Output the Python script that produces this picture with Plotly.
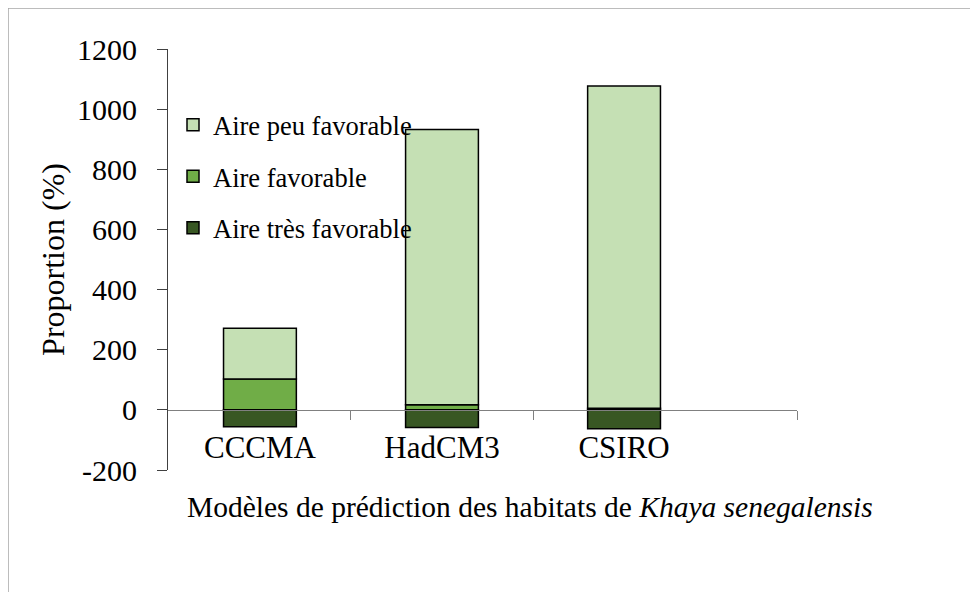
import plotly.graph_objects as go

models = ["CCCMA", "HadCM3", "CSIRO"]
tres_favorable = [-56, -59, -63]
favorable = [103, 17, 5]
peu_favorable = [168, 915, 1072]
y_ticks = [-200, 0, 200, 400, 600, 800, 1000, 1200]
y_labels = ["-200", "0", "200", "400", "600", "800", "1000", "1200"]

series = [
    ("Aire très favorable", tres_favorable, "#385723", 3),
    ("Aire favorable", favorable, "#70AD47", 2),
    ("Aire peu favorable", peu_favorable, "#C5E0B4", 1),
]

FONT = "Liberation Serif, Times New Roman, serif"

fig = go.Figure()
for i, (name, vals, color, rank) in enumerate(series):
    fig.add_trace(go.Bar(
        x=list(range(len(models))), y=vals, name=name,
        width=0.4, legendgroup=str(i), legendrank=rank,
        marker=dict(color=color, line=dict(color="black", width=1.5)),
    ))

# page has an 8px body margin; coordinates below are page pixels
OFF = 8
W, H = 978, 592
L, T = 168 - OFF, 49 - OFF
pw = 797 - 168
ph = 470 - 49
R = W - L - pw
B = H - T - ph


def px(x):
    return (x - OFF - L) / pw


def py(y):
    return (T + ph - (y - OFF)) / ph


fig.update_layout(
    width=W, height=H,
    margin=dict(l=L, r=R, t=T, b=B),
    barmode="relative",
    paper_bgcolor="white", plot_bgcolor="white",
    font=dict(family=FONT, size=30, color="black"),
    showlegend=True,
    legend=dict(
        x=px(173), y=py(101), xanchor="left", yanchor="top",
        traceorder="grouped", tracegroupgap=14,
        font=dict(size=26.5), bgcolor="rgba(0,0,0,0)",
    ),
    xaxis=dict(
        range=[-0.505, 2.95],
        tickmode="array", tickvals=[0, 1, 2], ticktext=models,
        ticks="", ticklabelstandoff=10,
        tickfont=dict(size=31),
        anchor="free", position=200 / 1400,
        showline=True, linecolor="#808080", linewidth=1.2,
        showgrid=False, zeroline=False,
        minor=dict(tickmode="array", tickvals=[0.5, 1.5, 2.95],
                   ticks="outside", ticklen=9, tickcolor="#808080", tickwidth=1.2),
    ),
    yaxis=dict(
        range=[-200, 1200], tickmode="array", tickvals=y_ticks, ticktext=y_labels,
        ticks="outside", ticklen=10, tickcolor="#404040", tickwidth=1.2,
        ticklabelstandoff=14, tickfont=dict(size=30),
        showline=True, linecolor="#404040", linewidth=1.2,
        showgrid=False, zeroline=False,
        title=dict(text="Proportion (%)", font=dict(size=32), standoff=2),
    ),
    shapes=[dict(type="rect", xref="paper", yref="paper",
                 x0=px(8), x1=px(977), y0=py(620), y1=py(8),
                 line=dict(color="#A6A6A6", width=1.5), layer="below")],
    annotations=[dict(
        text="Modèles de prédiction des habitats de <i>Khaya senegalensis</i>",
        xref="paper", yref="paper", x=px(530), y=py(507),
        xanchor="center", yanchor="middle", showarrow=False,
        font=dict(size=29.5),
    )],
)

fig.write_html("out.html")
